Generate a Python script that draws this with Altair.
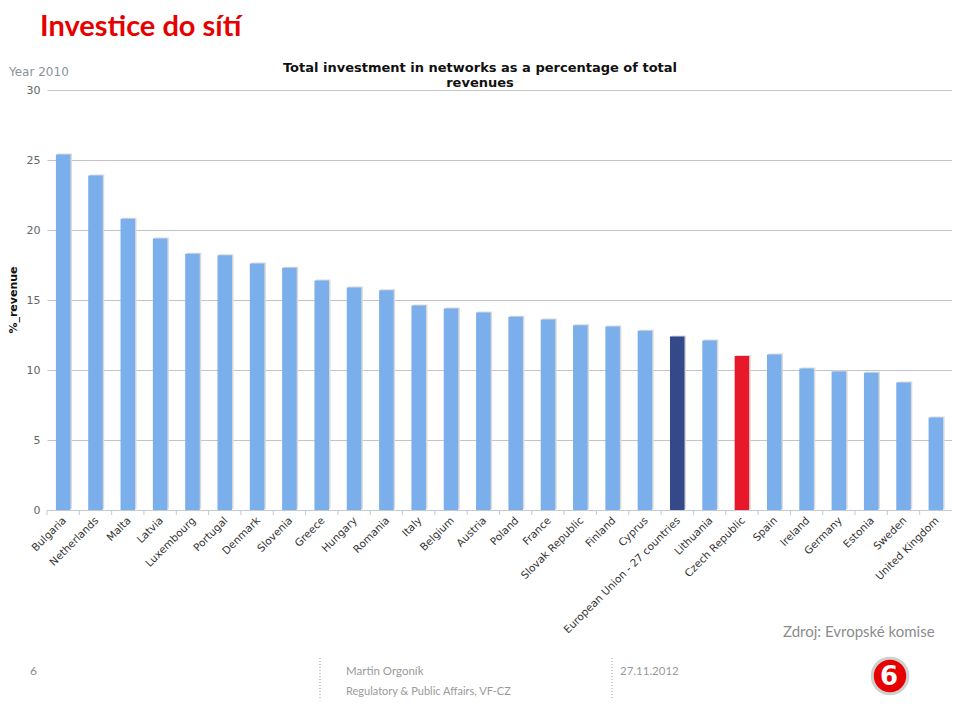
import altair as alt
import pandas as pd

countries = ["Bulgaria", "Netherlands", "Malta", "Latvia", "Luxembourg", "Portugal",
             "Denmark", "Slovenia", "Greece", "Hungary", "Romania", "Italy", "Belgium",
             "Austria", "Poland", "France", "Slovak Republic", "Finland", "Cyprus",
             "European Union - 27 countries", "Lithuania", "Czech Republic", "Spain",
             "Ireland", "Germany", "Estonia", "Sweden", "United Kingdom"]
values = [25.4, 23.9, 20.8, 19.4, 18.3, 18.2, 17.6, 17.3, 16.4, 15.9, 15.7, 14.6, 14.4,
          14.1, 13.8, 13.6, 13.2, 13.1, 12.8, 12.4, 12.1, 11.0, 11.1, 10.1, 9.9, 9.8,
          9.1, 6.6]
y_ticks = [0, 5, 10, 15, 20, 25, 30]
highlight = {"European Union - 27 countries": "#33498a", "Czech Republic": "#e8182b"}
base_color = "#7bafec"
bar_colors = [highlight.get(c, base_color) for c in countries]

df = pd.DataFrame({"country": countries, "value": values})

W, H = 905, 420
STEP = W / len(countries)

xscale = alt.Scale(domain=countries, paddingInner=0.55, paddingOuter=0.275)
yscale = alt.Scale(domain=[0, 30])

X = alt.X("country:N", sort=countries, scale=xscale, title=None,
          axis=alt.Axis(labelAngle=-45, labelAlign="right", labelBaseline="top",
                        ticks=False, domainColor="#c3cad3", labelPadding=5, labelOffset=-2,
                        labelFont="DejaVu Sans", labelFontSize=10.5, labelColor="#333333"))
Y = alt.Y("value:Q", scale=yscale, title=None,
          axis=alt.Axis(values=y_ticks, grid=True, gridColor="#c4c4c4", domain=False,
                        ticks=False, labelPadding=7, labelFont="DejaVu Sans",
                        labelFontSize=11, labelColor="#666666"))

base = alt.Chart(df)

shadow = base.mark_bar(color="#d9d9d9", xOffset=1.5, yOffset=-1).encode(x=X, y=Y)

bars = base.mark_bar().encode(
    x=X, y=Y,
    color=alt.Color("country:N", scale=alt.Scale(domain=countries, range=bar_colors), legend=None),
)

ticks = base.mark_rule(color="#c3cad3", xOffset=-STEP / 2).encode(
    x=X, y=alt.value(H), y2=alt.value(H + 5),
)

one = pd.DataFrame({"k": [0]})


def label(text, x, y, size, color, font, weight="normal", align="left", angle=0, baseline="alphabetic"):
    return alt.Chart(one).mark_text(text=text, fontSize=size, color=color, font=font,
                                    fontWeight=weight, align=align, angle=angle,
                                    baseline=baseline).encode(x=alt.value(x), y=alt.value(y))


texts = [
    label("Investice do sítí", -7, -54, 29, "#e60000", "Lato", "bold"),
    label("Year 2010", -38, -14, 12, "#8a939b", "DejaVu Sans"),
    label("Total investment in networks as a percentage of total", 433, -18, 13, "#111111", "DejaVu Sans", "bold", "center"),
    label("revenues", 433, -3, 13, "#111111", "DejaVu Sans", "bold", "center"),
    label("%_revenue", -33, 210, 11, "#111111", "DejaVu Sans", "bold", "center", 270, "middle"),
    label("Zdroj: Evropské komise", 736, 547, 15, "#8c8c8c", "Lato"),
    label("6", -17, 585, 12, "#8c8c8c", "Lato"),
    label("Martin Orgoník", 299, 585, 11.5, "#9a9a9a", "Lato"),
    label("Regulatory & Public Affairs, VF-CZ", 299, 605, 11, "#9a9a9a", "Lato"),
    label("27.11.2012", 573, 585, 11.5, "#9a9a9a", "Lato"),
]

dots = [
    alt.Chart(one).mark_rule(color="#9a9a9a", strokeDash=[1, 2]).encode(
        x=alt.value(xv), y=alt.value(568), y2=alt.value(700))
    for xv in (273, 565)
]

logo = [
    alt.Chart(one).mark_point(filled=True, shape="circle", size=1500, color="#d0d0d0", opacity=1).encode(
        x=alt.value(843), y=alt.value(586)),
    alt.Chart(one).mark_point(filled=True, shape="circle", size=1050, color="#e60000", opacity=1).encode(
        x=alt.value(843), y=alt.value(586)),
    alt.Chart(one).mark_text(text="6", fontSize=26, fontWeight="bold", color="white",
                             font="DejaVu Sans", align="center", baseline="middle").encode(
        x=alt.value(842), y=alt.value(587)),
]

chart = alt.layer(shadow, bars, ticks, *dots, *logo, *texts).properties(
    width=W, height=H,
    autosize=alt.AutoSizeParams(type="none"),
    padding={"left": 39, "top": 82, "right": 0, "bottom": 188},
    background="white",
).configure_view(stroke=None)

chart.save("out.html", embed_options={"renderer": "svg", "actions": False})
